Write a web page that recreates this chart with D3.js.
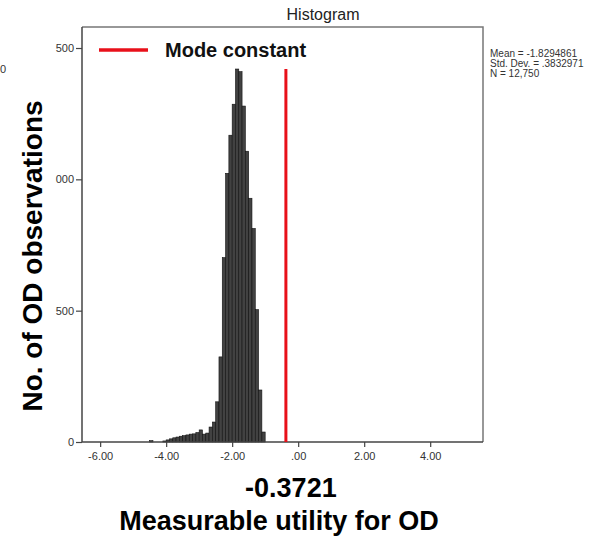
<!DOCTYPE html>
<html>
<head>
<meta charset="utf-8">
<script src="https://cdn.jsdelivr.net/npm/d3@7"></script>
<style>
  body { margin: 0; background: #fff; }
  svg { display: block; font-family: "Liberation Sans", Arial, sans-serif; }
</style>
</head>
<body>
<div id="chart"></div>
<script>
// histogram bins (lower edge, width .1) and frequencies
var binEdges = [-4.5,-4.4,-4.3,-4.2,-4.1,-4.0,-3.9,-3.8,-3.7,-3.6,-3.5,-3.4,-3.3,-3.2,-3.1,-3.0,
                -2.9,-2.8,-2.7,-2.6,-2.5,-2.4,-2.3,-2.2,-2.1,-2.0,-1.9,-1.8,-1.7,-1.6,-1.5,-1.4,
                -1.3,-1.2,-1.1];
var binCounts = [5,0,0,0,4,8,12,16,19,22,24,27,30,31,36,46,
                 30,34,57,76,153,324,702,1023,1168,1286,1420,1410,1279,1107,928,813,
                 504,198,38];
var binWidth = 0.1;
var xTicks = [-6, -4, -2, 0, 2, 4];
var xTickLabels = ["-6.00", "-4.00", "-2.00", ".00", "2.00", "4.00"];
var yTicks = [0, 500, 1000, 1500];
var yTickLabels = ["0", "500", "000", "500"];   // left part of the labels is cut off in the source
var modeValue = -0.3721;
var modeTop = 1420;
var statsLines = ["Mean = -1.8294861", "Std. Dev. = .3832971", "N = 12,750"];

var W = 596, H = 542;
var plot = {left: 82, right: 483, top: 27, bottom: 442};

var svg = d3.select("#chart").append("svg")
    .attr("width", W)
    .attr("height", H);

var x = d3.scaleLinear().domain([-6.55, 5.6]).range([plot.left, plot.right]);
var y = d3.scaleLinear().domain([0, 1580]).range([plot.bottom, plot.top]);

// frame (top and right sides)
svg.append("path")
    .attr("d", "M" + plot.left + "," + plot.top + "H" + plot.right + "V" + plot.bottom)
    .attr("fill", "none")
    .attr("stroke", "#777")
    .attr("stroke-width", 1.5);

// bars
svg.append("g").selectAll("rect")
    .data(binEdges)
    .join("rect")
    .attr("x", function (d) { return x(d); })
    .attr("y", function (d, i) { return y(binCounts[i]); })
    .attr("width", function (d) { return x(d + binWidth) - x(d); })
    .attr("height", function (d, i) { return y(0) - y(binCounts[i]); })
    .attr("fill", "#424242")
    .attr("stroke", "#111")
    .attr("stroke-width", 0.6);

// axes
var xAxis = svg.append("g")
    .attr("transform", "translate(0," + plot.bottom + ")")
    .call(d3.axisBottom(x).tickValues(xTicks).tickSize(5).tickSizeOuter(0)
        .tickFormat(function (d, i) { return xTickLabels[i]; }));
var yAxis = svg.append("g")
    .attr("transform", "translate(" + plot.left + ",0)")
    .call(d3.axisLeft(y).tickValues(yTicks).tickSize(6).tickSizeOuter(0)
        .tickFormat(function (d, i) { return yTickLabels[i]; }));

[xAxis, yAxis].forEach(function (a) {
    a.select(".domain").attr("stroke", "#444").attr("stroke-width", 1.5)
        .attr("d", a === xAxis ? "M" + plot.left + ",0H" + plot.right : "M0," + plot.top + "V" + plot.bottom);
    a.selectAll(".tick line").attr("stroke", "#444").attr("stroke-width", 1.2);
    a.selectAll(".tick text").attr("fill", "#333").attr("font-size", 11)
        .attr("font-family", "Liberation Sans, Arial, sans-serif");
});
xAxis.selectAll(".tick text").attr("dy", "0.9em");
yAxis.selectAll(".tick text").attr("x", -8);

// mode constant line
svg.append("line")
    .attr("x1", x(modeValue)).attr("x2", x(modeValue))
    .attr("y1", y(0)).attr("y2", y(modeTop))
    .attr("stroke", "#e8101a")
    .attr("stroke-width", 3);

// legend
svg.append("line")
    .attr("x1", 99).attr("x2", 148)
    .attr("y1", 50).attr("y2", 50)
    .attr("stroke", "#e8101a")
    .attr("stroke-width", 3.5);
svg.append("text")
    .attr("x", 165).attr("y", 57)
    .attr("font-size", 20).attr("font-weight", "bold")
    .attr("fill", "#111")
    .text("Mode constant");

// title
svg.append("text")
    .attr("x", 323).attr("y", 20)
    .attr("text-anchor", "middle")
    .attr("font-size", 16)
    .attr("fill", "#222")
    .text("Histogram");

// statistics block
svg.append("g").selectAll("text")
    .data(statsLines)
    .join("text")
    .attr("x", 490)
    .attr("y", function (d, i) { return 57 + i * 10; })
    .attr("font-size", 10)
    .attr("fill", "#333")
    .text(function (d) { return d; });

// stray fragment at the left edge of the source picture
svg.append("text")
    .attr("x", 0).attr("y", 73)
    .attr("font-size", 11)
    .attr("fill", "#333")
    .text("0");

// axis titles
svg.append("text")
    .attr("transform", "translate(42,256) rotate(-90)")
    .attr("text-anchor", "middle")
    .attr("font-size", 28).attr("font-weight", "bold")
    .attr("fill", "#000")
    .text("No. of OD observations");

svg.append("text")
    .attr("x", x(modeValue) + 5).attr("y", 497)
    .attr("text-anchor", "middle")
    .attr("font-size", 27).attr("font-weight", "bold")
    .attr("fill", "#000")
    .text("-0.3721");

svg.append("text")
    .attr("x", 279).attr("y", 530)
    .attr("text-anchor", "middle")
    .attr("font-size", 27).attr("font-weight", "bold")
    .attr("fill", "#000")
    .text("Measurable utility for OD");
</script>
</body>
</html>
